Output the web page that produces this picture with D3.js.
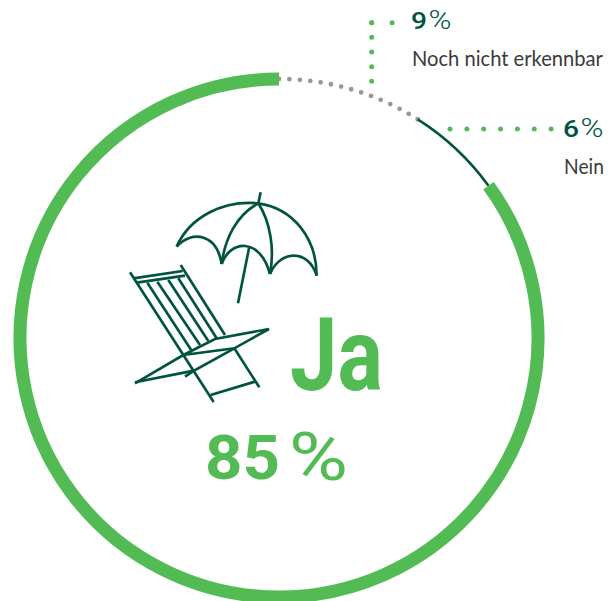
<!DOCTYPE html>
<html><head><meta charset="utf-8">
<script src="https://cdn.jsdelivr.net/npm/d3@7"></script>
<style>html,body{margin:0;padding:0;background:#fff}svg{display:block}</style>
</head><body>
<svg id="c" width="611" height="601"></svg>
<script>
const categories = ["Ja", "Noch nicht erkennbar", "Nein"];
const values = [85, 9, 6];
const centerLabel = "Ja";
const centerValue = ["85", "%"];
const sideValues = [["9", "%"], ["6", "%"]];
const sideLabels = ["Noch nicht erkennbar", "Nein"];

const green = "#52bb54", dark = "#00543f", gray = "#98979c", text = "#3a3a3a";
const svg = d3.select("#c");
const cx = 279, cy = 338, R = 259;

const order = [1, 2, 0];
const pie = d3.pie().sort(null).value(d => d.v);
const rows = order.map(i => ({ name: categories[i], v: values[i] }));
const arcs = pie(rows);
const arcPath = d => {
  const p = d3.path();
  p.arc(0, 0, R, d.startAngle - Math.PI / 2, d.endAngle - Math.PI / 2);
  return p.toString();
};
const g = svg.append("g").attr("transform", `translate(${cx},${cy})`);
const styles = {
  "Ja": { stroke: green, w: 13 },
  "Nein": { stroke: dark, w: 2.6 },
  "Noch nicht erkennbar": { stroke: gray, w: 4.8, dash: "0 10.45", cap: "round" }
};
g.selectAll("path.seg").data(arcs).join("path")
  .attr("class", "seg")
  .attr("d", arcPath)
  .attr("fill", "none")
  .attr("stroke", d => styles[d.data.name].stroke)
  .attr("stroke-width", d => styles[d.data.name].w)
  .attr("stroke-dasharray", d => styles[d.data.name].dash || null)
  .attr("stroke-linecap", d => styles[d.data.name].cap || "butt");

// leader lines
const leader = (pts, dash) => svg.append("path")
  .attr("d", d3.line()(pts)).attr("fill", "none").attr("stroke", green)
  .attr("stroke-width", 5).attr("stroke-linecap", "round").attr("stroke-dasharray", dash);
leader([[371.7, 81.3], [371.7, 22.5]], "0 14.65");
leader([[371.7, 22.7], [392.2, 22.7]], "0 20.4");
leader([[450, 129], [551.5, 129]], "0 16.85");

// texts: horizontally fitted to the width
const T = (x, y, s, o) => {
  const t = svg.append("text").text(s)
    .attr("font-family", o.f).attr("font-size", o.s).attr("font-weight", o.w || 400)
    .attr("fill", o.c);
  const sx = o.len ? o.len / t.node().getComputedTextLength() : 1;
  t.attr("transform", `translate(${x},${y}) scale(${sx},1)`);
  return t;
};
const num = "Roboto", light = "Lato";
T(411, 29, sideValues[0][0], { f: num, s: 24, w: 500, c: dark, len: 16 });
T(428.5, 29, sideValues[0][1], { f: num, s: 25, w: 300, c: dark, len: 23 });
T(563, 137, sideValues[1][0], { f: num, s: 24, w: 500, c: dark, len: 16 });
T(580.5, 137, sideValues[1][1], { f: num, s: 25, w: 300, c: dark, len: 23 });
T(412, 66, sideLabels[0], { f: light, s: 22, w: 400, c: text, len: 191 });
T(564, 174, sideLabels[1], { f: light, s: 22, w: 400, c: text, len: 40 });

T(290, 390, centerLabel, { f: num, s: 102, w: 700, c: green, len: 93 });
T(205, 479, centerValue[0], { f: num, s: 62, w: 700, c: green, len: 75 });
T(289, 480, centerValue[1], { f: num, s: 66, w: 400, c: green, len: 59 });

// deck chair and parasol pictogram
const icon = svg.append("g").attr("transform", "translate(120,185) scale(0.3333)")
  .attr("fill", "none").attr("stroke", dark).attr("stroke-width", 8)
  .attr("stroke-linecap", "butt").attr("stroke-linejoin", "miter");
[
  "M170,185C210,95 310,45 415,55C520,70 590,160 590,272",
  "M170,185C215,135 290,145 305,237",
  "M305,237C330,165 420,155 450,267",
  "M450,267C480,195 565,190 590,272",
  "M415,55C350,90 315,160 305,237",
  "M415,55C450,110 465,190 450,267",
  "M422,22L415,55",
  "M388,185L354,355",
  "M30,262L281,651",
  "M182,240L315,450",
  "M40,280L188,258",
  "M50,293L195,272",
  "M82,293L215,497",
  "M112,290L240,480",
  "M145,285L265,468",
  "M175,280L290,460",
  "M190,510L285,462L447,432L343,490Z",
  "M343,490L418,607",
  "M272,630L405,590",
  "M45,595L190,510",
  "M45,592L222,557L343,490",
  "M195,575L222,557"
].forEach(d => icon.append("path").attr("d", d));
</script>
</body></html>
